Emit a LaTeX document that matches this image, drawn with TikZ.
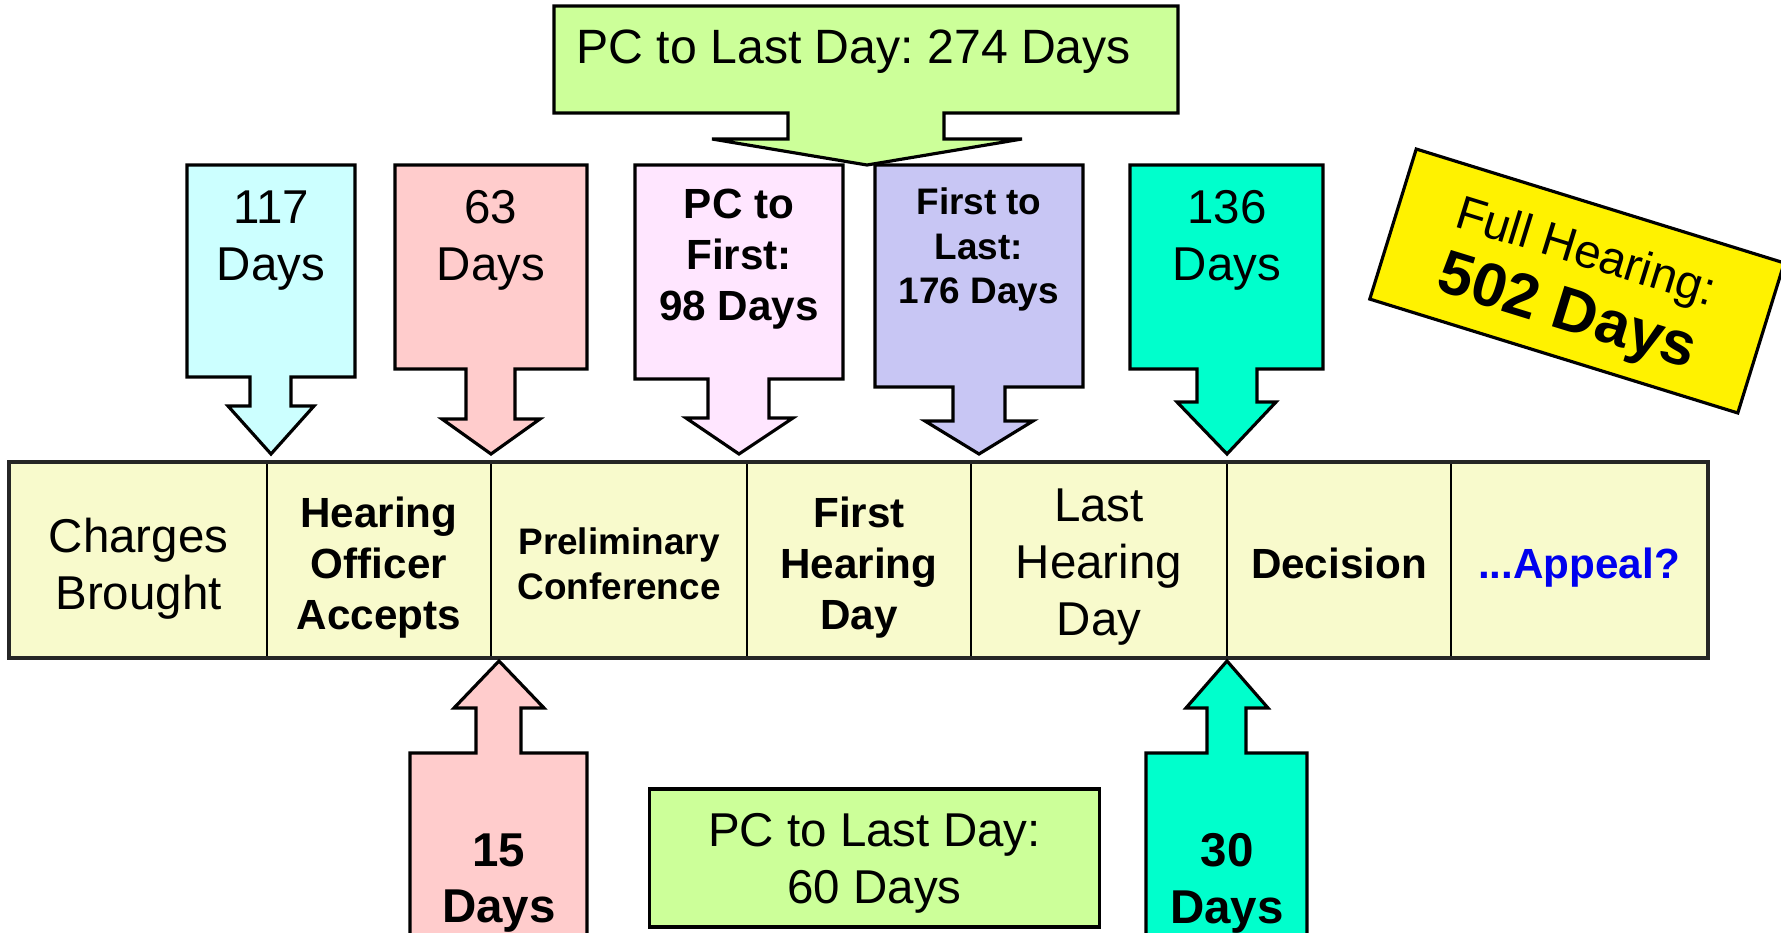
\documentclass[tikz,border=0pt]{standalone}
\usepackage{fontspec}
\setmainfont{Liberation Sans}
\frenchspacing
\definecolor{greenbx}{RGB}{204,255,153}
\definecolor{cyanbx}{RGB}{204,255,255}
\definecolor{pinkbx}{RGB}{255,204,204}
\definecolor{lilacbx}{RGB}{255,230,255}
\definecolor{lavbx}{RGB}{200,198,244}
\definecolor{tealbx}{RGB}{0,255,204}
\definecolor{barfill}{RGB}{248,250,204}
\definecolor{appealblue}{RGB}{0,0,238}
\tikzset{
  boxln/.style    = {draw=black, line width=0.9pt, line join=miter},
  cellbx/.style   = {draw=black, line width=0.6pt, fill=barfill, minimum height=1.94cm, inner sep=0pt},
  lbl/.style      = {anchor=north, align=center, inner sep=0pt},
  regtxt/.style   = {lbl, font=\fontsize{13.5}{16.2}\selectfont},
  boldtxt/.style  = {lbl, font=\fontsize{12}{14.6}\selectfont\bfseries},
  bigbold/.style  = {lbl, font=\fontsize{13.5}{16.1}\selectfont\bfseries},
  smallbold/.style= {lbl, font=\fontsize{10.5}{12.7}\selectfont\bfseries}
}

\begin{document}
\begin{tikzpicture}[x=0.01cm,y=-0.01cm]
  \useasboundingbox (0,0) rectangle (1781,933);
  % top callout
  \draw[boxln,fill=greenbx] (554,6) -- (1178,6) -- (1178,113) -- (944,113) -- (944,139)
        -- (1022,139) -- (867,165) -- (712,139) -- (788,139) -- (788,113) -- (554,113) -- cycle;
  \node[anchor=base west,inner sep=0pt,font=\fontsize{13.7}{16}\selectfont] (pclast)
        at (576,63) {PC to Last Day: 274 Days};
  % down arrows
  \draw[boxln,fill=cyanbx] (187,165) -- (355,165) -- (355,377) -- (291,377) -- (291,406)
        -- (314,406) -- (271,454) -- (228,406) -- (250,406) -- (250,377) -- (187,377) -- cycle;
  \draw[boxln,fill=pinkbx] (395,165) -- (587,165) -- (587,369) -- (515,369) -- (515,419)
        -- (540,419) -- (491,454) -- (442,419) -- (466,419) -- (466,369) -- (395,369) -- cycle;
  \draw[boxln,fill=lilacbx] (635,165) -- (843,165) -- (843,379) -- (769,379) -- (769,418)
        -- (793,418) -- (739,454) -- (686,418) -- (708,418) -- (708,379) -- (635,379) -- cycle;
  \draw[boxln,fill=lavbx] (875,165) -- (1083,165) -- (1083,387) -- (1005,387) -- (1005,421)
        -- (1033,421) -- (979,454) -- (925,421) -- (953,421) -- (953,387) -- (875,387) -- cycle;
  \draw[boxln,fill=tealbx] (1130,165) -- (1323,165) -- (1323,369) -- (1257,369) -- (1257,402)
        -- (1276,402) -- (1227,454) -- (1177,402) -- (1197,402) -- (1197,369) -- (1130,369) -- cycle;
  \node[regtxt] (d117) at (271,190) {117\\Days};
  \node[regtxt] (d63) at (491,190) {63\\Days};
  \node[boldtxt] (pcfirst) at (739,188) {PC to\\First:\\98 Days};
  \node[smallbold] (firstlast) at (979,187) {First to\\Last:\\176 Days};
  \node[regtxt] (d136) at (1227,190) {136\\Days};
  % full hearing
  \node[boxln,fill=yellow,rotate=-17.2,minimum width=3.85cm,minimum height=1.57cm,
        inner sep=0pt] (full) at (1577,281) {};
  \node[rotate=-17.2,align=center,inner sep=0pt,font=\fontsize{13.5}{18.8}\selectfont]
        (fulltxt) at (1575,287.5)
        {Full Hearing:\\\fontsize{17.5}{18.8}\selectfont\bfseries 502 Days};
  % timeline
  \node[cellbx,minimum width=2.57cm] (c1) at (138.5,560) {};
  \node[cellbx,minimum width=2.24cm] (c2) at (379,560) {};
  \node[cellbx,minimum width=2.56cm] (c3) at (619,560) {};
  \node[cellbx,minimum width=2.24cm] (c4) at (859,560) {};
  \node[cellbx,minimum width=2.56cm] (c5) at (1099,560) {};
  \node[cellbx,minimum width=2.24cm] (c6) at (1339,560) {};
  \node[cellbx,minimum width=2.56cm] (c7) at (1579,560) {};
  \draw[line width=1pt,black!85] (c1.north west) rectangle (c7.south east);
  \node[regtxt] (charges) at (138.5,517) {Charges\\Brought};
  \node[boldtxt] (accepts) at (379,496) {Hearing\\Officer\\Accepts};
  \node[smallbold] (prelim) at (619,527) {Preliminary\\Conference};
  \node[boldtxt] (firstday) at (859,496) {First\\Hearing\\Day};
  \node[regtxt] (lastday) at (1099,488) {Last\\Hearing\\Day};
  \node[boldtxt] (decision) at (1339,547) {Decision};
  \node[boldtxt,text=appealblue] (appeal) at (1579,547) {...Appeal?};
  % up arrows
  \draw[boxln,fill=pinkbx] (410,945) -- (410,753) -- (476,753) -- (476,708) -- (454,708)
        -- (499,661) -- (544,708) -- (521,708) -- (521,753) -- (587,753) -- (587,945) -- cycle;
  \draw[boxln,fill=tealbx] (1146,945) -- (1146,753) -- (1207,753) -- (1207,708) -- (1186,708)
        -- (1227,661) -- (1268,708) -- (1246,708) -- (1246,753) -- (1307,753) -- (1307,945) -- cycle;
  \node[bigbold] (d15) at (499,833) {15\\Days};
  \node[bigbold] (d30) at (1227,833) {30\\Days};
  \node[boxln,fill=greenbx,minimum width=4.49cm,minimum height=1.38cm] (pc60) at (874.5,858) {};
  \node[regtxt] (pc60txt) at (874.5,813) {PC to Last Day:\\60 Days};
\end{tikzpicture}
\end{document}
